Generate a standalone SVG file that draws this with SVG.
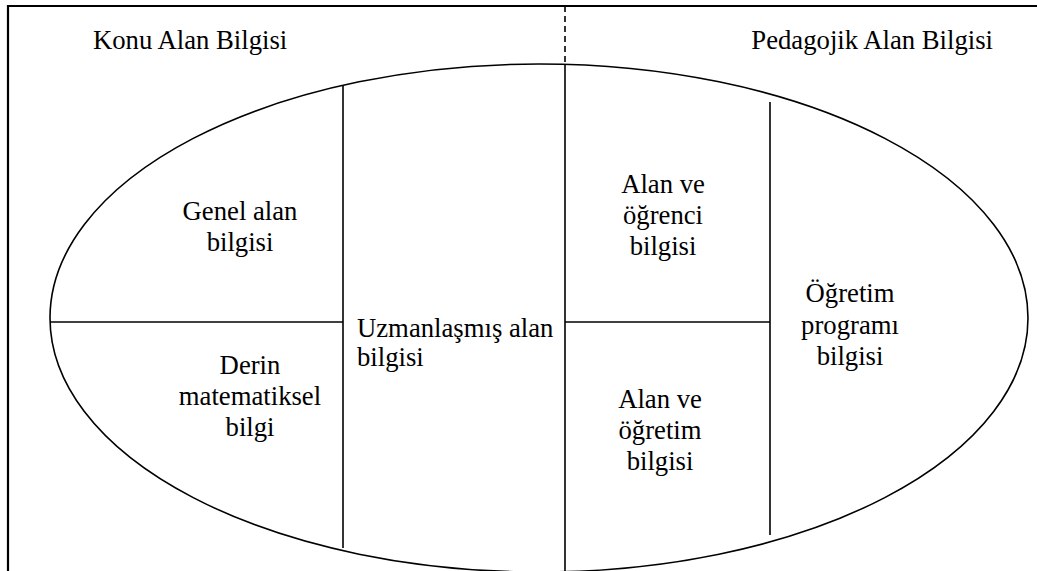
<svg xmlns="http://www.w3.org/2000/svg" width="1037" height="571" viewBox="0 0 1037 571">
<style>
.t{font-family:'Liberation Serif','Times New Roman',serif;font-size:26.7px;fill:#000}
.c{text-anchor:middle}
.ln{stroke:#000;stroke-width:1.6;fill:none}
.bd{stroke:#000;stroke-width:2.2;fill:none}
</style>
<rect width="1037" height="571" fill="#fff"/>
<g id="frame">
<line class="bd" x1="8" y1="6" x2="1037" y2="6"/>
<line class="bd" x1="8" y1="5" x2="8" y2="571"/>
</g>
<g id="ellipse">
<ellipse class="ln" cx="539" cy="318" rx="489" ry="254" stroke-width="2.2"/>
</g>
<g id="connectors">
<line class="ln" x1="565" y1="6" x2="565" y2="64" stroke-width="2" stroke-dasharray="6,4"/>
<line class="ln" x1="565" y1="64" x2="565" y2="571"/>
<line class="ln" x1="343" y1="86" x2="343" y2="548"/>
<line class="ln" x1="770" y1="102" x2="770" y2="535" stroke-width="2"/>
<line class="ln" x1="50" y1="322" x2="343" y2="322"/>
<line class="ln" x1="565" y1="322" x2="770" y2="322" stroke-width="2"/>
</g>
<g id="konu"><text class="t" x="93" y="49">Konu Alan Bilgisi</text></g>
<g id="pedagojik"><text class="t" x="993" y="49" text-anchor="end">Pedagojik Alan Bilgisi</text></g>
<g id="genel"><text class="t c" x="240" y="220">Genel alan</text><text class="t c" x="240" y="251">bilgisi</text></g>
<g id="derin"><text class="t c" x="250" y="374">Derin</text><text class="t c" x="250" y="405">matematiksel</text><text class="t c" x="250" y="436">bilgi</text></g>
<g id="uzman"><text class="t" x="357" y="337">Uzmanlaşmış alan</text><text class="t" x="357" y="366">bilgisi</text></g>
<g id="ogrenci"><text class="t c" x="663" y="193">Alan ve</text><text class="t c" x="663" y="224">öğrenci</text><text class="t c" x="663" y="255">bilgisi</text></g>
<g id="program"><text class="t c" x="850" y="302">Öğretim</text><text class="t c" x="850" y="334">programı</text><text class="t c" x="850" y="365">bilgisi</text></g>
<g id="ogretim"><text class="t c" x="660" y="408">Alan ve</text><text class="t c" x="660" y="439">öğretim</text><text class="t c" x="660" y="470">bilgisi</text></g>
</svg>
